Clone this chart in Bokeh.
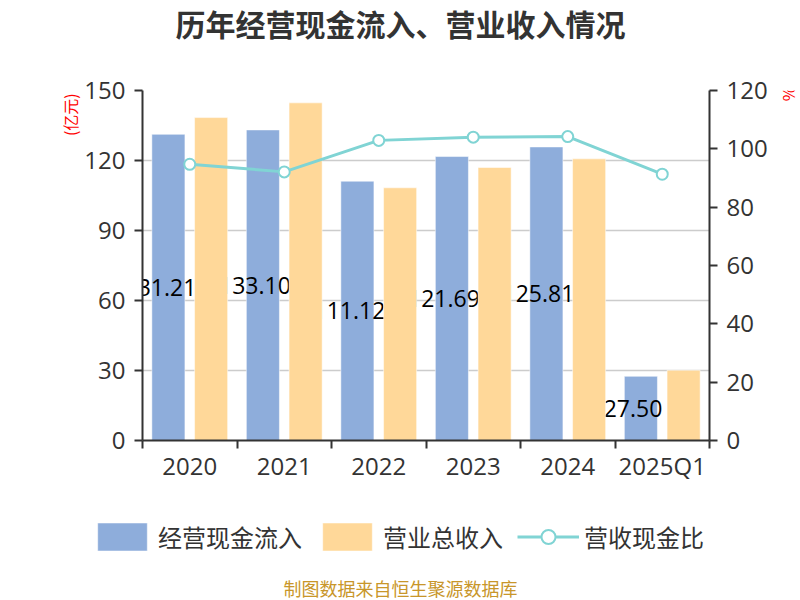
import numpy as np
from bokeh.plotting import figure
from bokeh.layouts import column, row
from bokeh.models import (Range1d, LinearAxis, FixedTicker, ColumnDataSource,
                          Legend, LegendItem)
from bokeh.core.properties import value
from bokeh.embed import file_html
from bokeh.resources import INLINE

# ---- data ----
categories = ["2020", "2021", "2022", "2023", "2024", "2025Q1"]
cash_inflow = [131.21, 133.10, 111.12, 121.69, 125.81, 27.50]      # 经营现金流入 (亿元)
revenue = [138.4, 144.7, 108.3, 117.0, 120.7, 30.1]                 # 营业总收入 (亿元)
ratio = [94.7, 92.1, 102.9, 104.0, 104.2, 91.3]                     # 营收现金比 (%)
bar_labels = ["131.21", "133.10", "111.12", "121.69", "125.81", "27.50"]
left_ticks = [0, 30, 60, 90, 120, 150]
right_ticks = [0, 20, 40, 60, 80, 100, 120]
series_names = ["经营现金流入", "营业总收入", "营收现金比"]
title_text = "历年经营现金流入、营业收入情况"
footer_text = "制图数据来自恒生聚源数据库"

BLUE = "#8eaddb"
ORANGE = "#ffd899"
TEAL = "#80d4d4"
AXIS = "#333333"
CJK = "Noto Sans CJK SC"
NUM = "Open Sans"


def blank(w, h):
    f = figure(width=w, height=h, output_backend="svg", toolbar_location=None,
               x_range=Range1d(0, w), y_range=Range1d(0, h),
               x_axis_location=None, y_axis_location=None,
               min_border=0, min_border_left=0, min_border_right=0,
               min_border_top=0, min_border_bottom=0)
    f.outline_line_color = None
    f.grid.grid_line_color = None
    f.background_fill_color = "white"
    f.border_fill_color = "white"
    return f


# ---- title ----
tfig = blank(800, 70)
tfig.text(x=[400], y=[48], text=[title_text], text_align="center", text_baseline="middle",
          text_font=value(CJK), text_font_size="30px", text_font_style="bold",
          text_color=AXIS)

# ---- unit strips ----
lfig = blank(81, 420)
lfig.text(x=[69], y=[391], text=["(亿元)"], angle=np.pi / 2, text_align="center",
          text_baseline="middle", text_font=value(CJK), text_font_size="16px",
          text_color="red")
rfig = blank(30, 420)
rfig.text(x=[17], y=[416], text=["%"], angle=np.pi / 2, text_align="center",
          text_baseline="middle", text_font=value(CJK), text_font_size="16px",
          text_color="red")

# ---- main chart ----
n = len(categories)
xc = np.arange(n) + 0.5
src = ColumnDataSource(dict(
    x=xc, xb=xc - 0.226, xo=xc + 0.226, xl=xc - 0.31,
    cash=cash_inflow, rev=revenue, ratio=ratio,
    lab=bar_labels, laby=np.array(cash_inflow) / 2.0,
))

p = figure(width=689, height=420, output_backend="svg", toolbar_location=None,
           x_range=Range1d(0, n), y_range=Range1d(0, 150),
           min_border_left=58, min_border_right=60, min_border_top=20,
           min_border_bottom=50)
p.outline_line_color = None
p.background_fill_color = "white"
p.border_fill_color = "white"
p.extra_y_ranges = {"pct": Range1d(0, 120)}

p.vbar(x="xb", top="cash", width=0.35, source=src, fill_color=BLUE,
       line_color="white", line_alpha=0.5, line_width=1)
p.text(x="xl", y="laby", text="lab", source=src, text_align="center",
       text_baseline="middle", text_font=value(NUM), text_font_size="23px",
       text_color="black")
p.vbar(x="xo", top="rev", width=0.35, source=src, fill_color=ORANGE,
       line_color="white", line_alpha=0.5, line_width=1)
p.line(x="x", y="ratio", source=src, y_range_name="pct", line_color=TEAL, line_width=3)
p.scatter(x="x", y="ratio", source=src, y_range_name="pct", size=11,
          fill_color="white", line_color=TEAL, line_width=2)

xa = p.xaxis[0]
xa.ticker = FixedTicker(ticks=list(xc), minor_ticks=list(range(n + 1)))
xa.major_label_overrides = {float(v): c for v, c in zip(xc, categories)}
xa.major_tick_out = 0
xa.major_tick_in = 0
xa.minor_tick_out = 8
xa.minor_tick_in = 0
xa.minor_tick_line_color = AXIS
xa.minor_tick_line_width = 2
xa.axis_line_color = AXIS
xa.axis_line_width = 2
xa.major_label_text_font = NUM
xa.major_label_text_font_size = "24px"
xa.major_label_text_color = AXIS
xa.major_label_standoff = 0

ya = p.yaxis[0]
ya.ticker = FixedTicker(ticks=left_ticks)
ra = LinearAxis(y_range_name="pct", ticker=FixedTicker(ticks=right_ticks))
p.add_layout(ra, "right")
for ax in (ya, ra):
    ax.major_tick_out = 8
    ax.major_tick_in = 0
    ax.minor_tick_out = 0
    ax.minor_tick_in = 0
    ax.major_tick_line_width = 2
    ax.major_tick_line_color = AXIS
    ax.axis_line_color = AXIS
    ax.axis_line_width = 2
    ax.major_label_text_font = NUM
    ax.major_label_text_font_size = "24px"
    ax.major_label_text_color = AXIS
    ax.major_label_standoff = 9

p.xgrid.grid_line_color = None
p.ygrid.ticker = FixedTicker(ticks=left_ticks)
p.ygrid.grid_line_color = "#cccccc"
p.ygrid.grid_line_width = 1.5

# ---- legend strip (proxy renderers placed off-canvas, used only for legend swatches) ----
gfig = blank(800, 70)
off = [-1000.0]
d1 = gfig.vbar(x=off, top=off, width=1, fill_color=BLUE, line_color="white", line_alpha=0.5)
d2 = gfig.vbar(x=off, top=off, width=1, fill_color=ORANGE, line_color="white", line_alpha=0.5)
d3 = gfig.line(x=off * 2, y=off * 2, line_color=TEAL, line_width=3)
d4 = gfig.scatter(x=off, y=off, size=20, fill_color="white", line_color=TEAL, line_width=2)
legend = Legend(items=[
    LegendItem(label=series_names[0], renderers=[d1]),
    LegendItem(label=series_names[1], renderers=[d2]),
    LegendItem(label=series_names[2], renderers=[d3, d4]),
], orientation="horizontal", location=(91, 6))
legend.glyph_width = 62
legend.glyph_height = 35
legend.label_standoff = 5
legend.spacing = 14
legend.padding = 0
legend.margin = 0
legend.border_line_color = None
legend.background_fill_alpha = 0
legend.label_text_font = CJK
legend.label_text_font_size = "24px"
legend.label_text_color = AXIS
gfig.add_layout(legend, "center")

# ---- footer ----
ffig = blank(800, 40)
ffig.text(x=[400], y=[13], text=[footer_text], text_align="center", text_baseline="middle",
          text_font=value(CJK), text_font_size="18px", text_color="#c8962a")

layout = column(tfig, row(lfig, p, rfig), gfig, ffig)
open("out.html", "w").write(file_html(layout, INLINE))
